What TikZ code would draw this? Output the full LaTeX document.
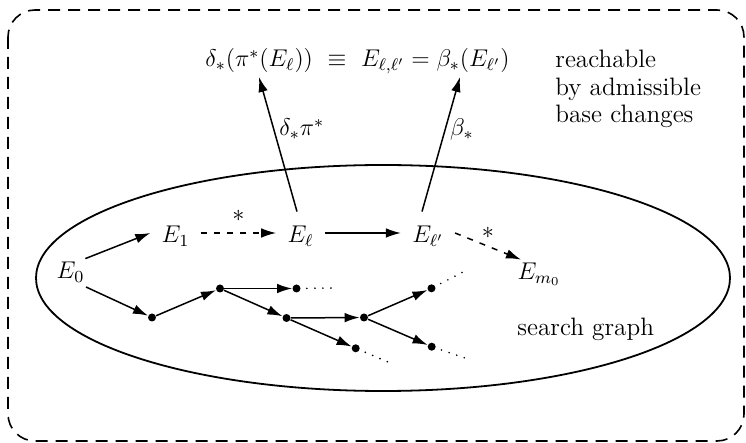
\RequirePackage{fix-cm}
\documentclass[tikz,border=0pt]{standalone}
\usetikzlibrary{arrows.meta}
\begin{document}
\begin{tikzpicture}[x=0.5pt,y=-0.5pt,
  every node/.style={font=\fontsize{12.1}{13.8}\selectfont},
  txt/.style={font=\fontsize{12.6}{13.8}\selectfont},
  lab/.style={inner xsep=5.5pt, inner ysep=0pt, text height=10pt, text depth=0pt},
  dotn/.style={circle, fill, inner sep=0pt, minimum size=4pt},
  arr/.style={line width=0.75pt, -{Latex[length=7.5pt,width=4.8pt]}},
  dasharr/.style={arr, dash pattern=on 3pt off 3.6pt},
  cont/.style={line width=0.9pt, line cap=round, dash pattern=on 0pt off 4pt, shorten <=3pt},
  elab/.style={inner sep=0pt, anchor=base west}]
\useasboundingbox (0,0) rectangle (746,443);
\draw[line width=0.8pt, dash pattern=on 6pt off 4pt, rounded corners=13.5pt] (8,10) rectangle (744,441);
\draw[line width=0.9pt] (383,278) ellipse [x radius=347, y radius=113];

\node[lab] (E0) at (70.5,269) {$E_0$};
\node[lab] (E1) at (175.5,233) {$E_1$};
\node[lab] (El) at (300.5,233) {$E_\ell$};
\node[lab] (Elp) at (428,233) {$E_{\ell'}$};
\node[lab] (Em) at (539,270) {$E_{m_0}$};

\node[inner sep=2pt, anchor=base west] (F) at (201,67) {$\delta_*(\pi^*(E_\ell))\ \equiv\ E_{\ell,\ell'}=\beta_*(E_{\ell'})$};
\node[txt, inner sep=0pt, anchor=north west, align=left] (R) at (555,49.6) {reachable\\by admissible\\base changes};
\node[txt, inner sep=0pt, anchor=base west] (S) at (517,336) {search graph};

\node[dotn] (d1) at (152,317.5) {};
\node[dotn] (d2) at (220,288.5) {};
\node[dotn] (d3) at (296.5,288.5) {};
\node[dotn] (d4) at (286.5,318) {};
\node[dotn] (d5) at (364,317.5) {};
\node[dotn] (d6) at (431.5,288.3) {};
\node[dotn] (d7) at (355.7,348.3) {};
\node[dotn] (d8) at (431.7,346.7) {};
\coordinate (c3) at (332,288);
\coordinate (c6) at (463,272);
\coordinate (c7) at (388,362);
\coordinate (c8) at (468,359);

\draw[arr] (E0.35) -- (E1.west);
\draw[arr] ([shift={(15.5,18)}]E0.center) -- (d1);
\draw[dasharr] (E1.east) -- node[pos=0.5, yshift=8.5pt, inner sep=0pt] {$*$} (El.west);
\draw[arr] (El.east) -- (Elp.west);
\draw[dasharr] (Elp.east) -- node[pos=0.5, yshift=6.75pt, inner sep=0pt] {$*$} (Em.150);

\draw[arr] ([shift={(-3.5,-11)}]El.north) -- node[elab, pos=0.563, xshift=1.5pt] {$\delta_*\pi^*$} ([shift={(58,10)}]F.base west);
\draw[arr] ([shift={(-6,-11)}]Elp.north) -- node[elab, pos=0.563, xshift=3pt] {$\beta_*$} ([shift={(259,10)}]F.base west);

\draw[arr] (d1) -- (d2);
\draw[arr] (d2) -- (d3);
\draw[arr] (d2) -- (d4);
\draw[arr] (d4) -- (d5);
\draw[arr] (d4) -- (d7);
\draw[arr] (d5) -- (d6);
\draw[arr] (d5) -- (d8);

\draw[cont] (d3) -- (c3);
\draw[cont] (d6) -- (c6);
\draw[cont] (d7) -- (c7);
\draw[cont] (d8) -- (c8);
\end{tikzpicture}
\end{document}
